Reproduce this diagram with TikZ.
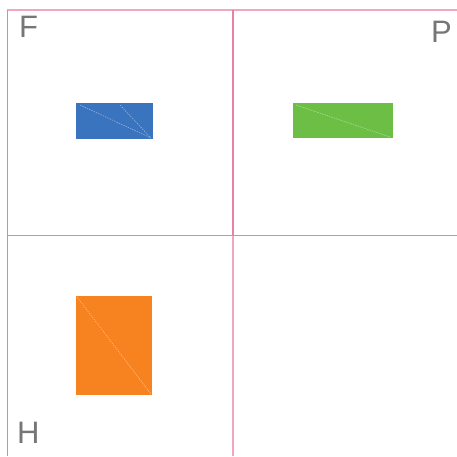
\documentclass[tikz,border=0pt]{standalone}
\usepackage{fontspec}
\setmainfont{Liberation Sans}
\definecolor{pinkA}{RGB}{232,130,165}
\definecolor{pinkB}{RGB}{242,165,195}
\definecolor{labgray}{RGB}{118,118,118}
\definecolor{rblue}{RGB}{58,115,190}
\definecolor{rgreen}{RGB}{108,190,69}
\definecolor{rorange}{RGB}{246,130,32}
\tikzset{
  grid line/.style={line width=0.8pt, pinkA},
  strong line/.style={line width=1.1pt, pinkA},
  lbl/.style={text=labgray, font=\fontsize{31}{31}\selectfont, inner sep=0pt},
  diag/.style={white, opacity=0.45, line width=0.6pt, dash pattern=on 1.5pt off 1pt},
}
\begin{document}
\begin{tikzpicture}[x=1pt,y=-1pt]
\useasboundingbox (0,0) rectangle (457,456);
\fill[white] (0,0) rectangle (457,456);
% grid
\coordinate (tl) at (7,10);
\coordinate (tr) at (457,10);
\coordinate (bl) at (7,456);
\coordinate (vt) at (233,10);
\coordinate (vm) at (233,235);
\coordinate (vb) at (233,456);
\coordinate (hl) at (7,235);
\coordinate (hr) at (457,235);
\draw[strong line, pinkB] (tl) -- (tr);
\draw[grid line] (tl) -- (bl);
\draw[strong line] (vt) -- (vm);
\draw[strong line, pinkB] (vm) -- (vb);
\draw[grid line] (hl) -- (hr);
% boxes
\fill[rblue] (76,103) rectangle (153,139);
\coordinate (b1) at (80,105);
\coordinate (b2) at (120,105);
\coordinate (b3) at (151,138);
\draw[diag] (b1) -- (b3);
\draw[diag] (b2) -- (b3);
\fill[rgreen] (293,103) rectangle (393,138);
\coordinate (g1) at (296,105);
\coordinate (g2) at (390,137);
\draw[diag] (g1) -- (g2);
\fill[rorange] (76,296) rectangle (152,395);
\coordinate (o1) at (77,297);
\coordinate (o2) at (151,394);
\draw[diag] (o1) -- (o2);
% labels
\node[lbl, anchor=base west] (F) at (19,37) {F};
\node[lbl, anchor=base west] (P) at (431,42) {P};
\node[lbl, anchor=base west] (H) at (17,443) {H};
\end{tikzpicture}
\end{document}
